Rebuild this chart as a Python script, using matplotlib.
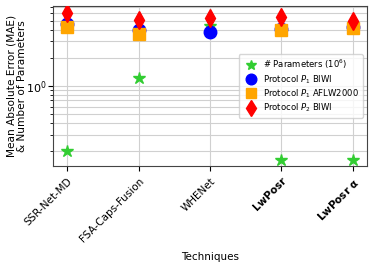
import matplotlib
matplotlib.use('Agg')
import matplotlib.pyplot as plt
import numpy as np

techniques = ['SSR-Net-MD', 'FSA-Caps-Fusion', 'WHENet', 'LwPosr', r'LwPosr $\mathbf{\alpha}$']
params = [0.2, 1.22, 4.4, 0.16, 0.16]
p1_biwi = [4.65, 4.0, 3.81, 4.06, 4.27]
p1_aflw = [4.3, 3.6, np.nan, 4.0, 4.15]
p2_biwi = [6.0, 5.1, 5.42, 5.47, 5.0]

plt.rcParams['font.size'] = 7.5
fig, ax = plt.subplots(figsize=(3.74, 2.63), dpi=100)
fig.subplots_adjust(left=0.142, right=0.981, top=0.977, bottom=0.369)

x = np.arange(len(techniques))
ax.plot(x, params, '*', color='limegreen', markersize=9, label='# Parameters ($10^6$)', zorder=3)
ax.plot(x, p1_biwi, 'o', color='blue', markersize=9, label='Protocol $P_1$ BIWI', zorder=3)
ax.plot(x, p1_aflw, 's', color='orange', markersize=8, label='Protocol $P_1$ AFLW2000', zorder=3)
ax.plot(x, p2_biwi, 'd', color='red', markersize=9, label='Protocol $P_2$ BIWI', zorder=3)

ax.set_yscale('log')
ax.set_ylim(0.138, 7.2)
ax.set_xlim(-0.2, 4.2)
ax.set_xticks(x)
ax.set_xticklabels(techniques, rotation=45, ha='right', rotation_mode='anchor')
for lbl in ax.get_xticklabels()[3:]:
    lbl.set_fontweight('bold')
ax.tick_params(axis='y', labelsize=8, pad=1.5)
ax.grid(True, which='both', color='#d0d0d0', linewidth=0.8)
ax.set_axisbelow(True)
for s in ax.spines.values():
    s.set_color('#444444')

ax.set_xlabel('Techniques', labelpad=6)
ax.set_ylabel('Mean Absolute Error (MAE)\n& Number of Parameters', fontsize=7.6, linespacing=1.05)
ax.yaxis.set_label_coords(-0.083, 0.5)
ax.legend(loc='center right', fontsize=6.1, borderpad=0.4, handletextpad=0.5,
          labelspacing=0.22, markerscale=0.85)

plt.savefig('out.png', dpi=100)
